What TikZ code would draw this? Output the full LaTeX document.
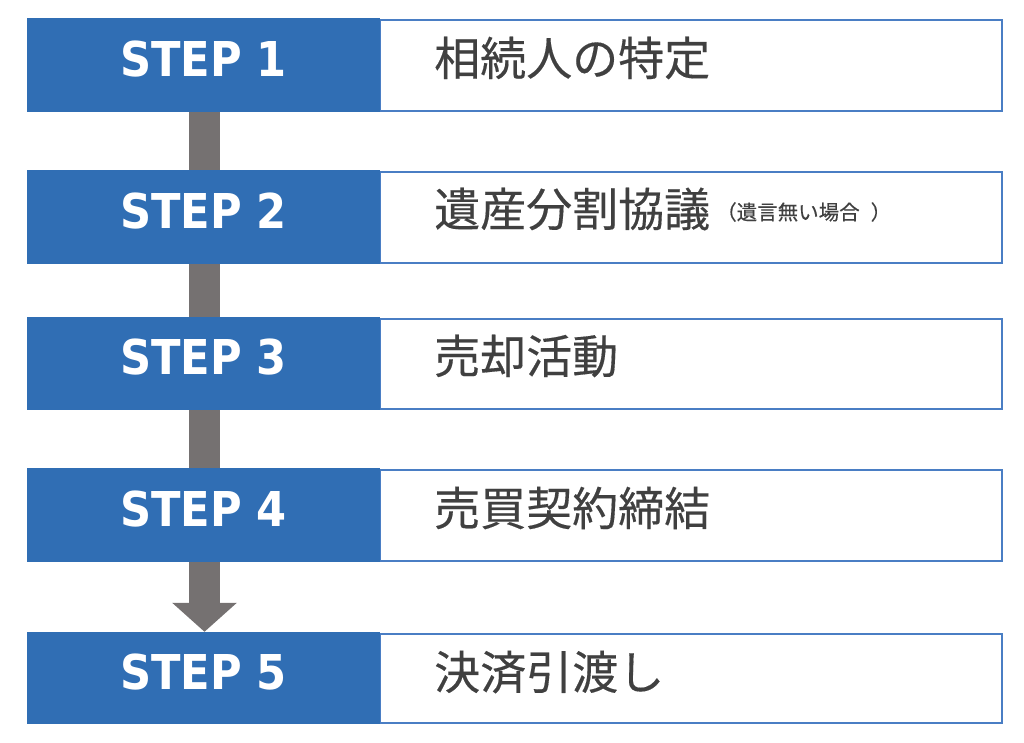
\documentclass[tikz,border=0pt]{standalone}
\usepackage{fontspec}
\usetikzlibrary{arrows.meta}
\newfontfamily\stepfont{DejaVu Sans}
\newfontfamily\jpfont{Noto Sans CJK JP}[FakeBold=0.3]
\definecolor{stepblue}{HTML}{306EB4}
\definecolor{edgeblue}{HTML}{4A7EC4}
\definecolor{arrowgray}{HTML}{757171}
\definecolor{txtgray}{HTML}{404040}
\pgfdeclarelayer{bg}
\pgfsetlayers{bg,main}
\tikzset{
  bluebox/.style={rectangle, fill=stepblue, draw=none, inner sep=0pt, minimum width=353pt},
  whitebox/.style={rectangle, fill=white, draw=edgeblue, line width=1.3pt, inner sep=0pt, minimum width=622pt},
  steplbl/.style={inner sep=0pt, text=white, font=\stepfont\bfseries\fontsize{48}{48}\selectfont},
  jplbl/.style={inner sep=0pt, anchor=west, text=txtgray, font=\jpfont\fontsize{46}{46}\selectfont},
  smalllbl/.style={inner sep=0pt, anchor=west, text=txtgray, font=\jpfont\fontsize{20.5}{20.5}\selectfont},
  flowarrow/.style={draw=arrowgray, line width=31pt, -{Triangle[width=63pt,length=29pt]}}
}
\begin{document}
\begin{tikzpicture}[x=1pt,y=-1pt]
\useasboundingbox (0,0) rectangle (1024,743);
% white boxes
\node[whitebox, minimum height=91pt] (w1) at (691,65.5) {};
\node[whitebox, minimum height=91pt] (w2) at (691,217.5) {};
\node[whitebox, minimum height=90pt] (w3) at (691,364) {};
\node[whitebox, minimum height=91pt] (w4) at (691,515.5) {};
\node[whitebox, minimum height=89pt] (w5) at (691,678.5) {};
% blue boxes
\node[bluebox, minimum height=94pt] (s1) at (203.5,65) {};
\node[bluebox, minimum height=94pt] (s2) at (203.5,217) {};
\node[bluebox, minimum height=93pt] (s3) at (203.5,363.5) {};
\node[bluebox, minimum height=94pt] (s4) at (203.5,515) {};
\node[bluebox, minimum height=92pt] (s5) at (203.5,678) {};
% step labels
\node[steplbl] (t1) at ([yshift=6pt]s1.center) {\scalebox{0.9}[1]{STEP 1}};
\node[steplbl] (t2) at ([yshift=6pt]s2.center) {\scalebox{0.9}[1]{STEP 2}};
\node[steplbl] (t3) at ([yshift=6pt]s3.center) {\scalebox{0.9}[1]{STEP 3}};
\node[steplbl] (t4) at ([yshift=6pt]s4.center) {\scalebox{0.9}[1]{STEP 4}};
\node[steplbl] (t5) at ([yshift=6pt]s5.center) {\scalebox{0.9}[1]{STEP 5}};
% japanese labels
\node[jplbl] (j1) at (434,58) {相続人の特定};
\node[jplbl] (j2) at (434,209) {遺産分割協議};
\node[smalllbl] (j2b) at (716,212) {（遺言無い場合\kern11pt）};
\node[jplbl] (j3) at (434,356) {売却活動};
\node[jplbl] (j4) at (434,508) {売買契約締結};
\node[jplbl] (j5) at (434,672) {決済引渡し};
% arrow
\begin{pgfonlayer}{bg}
\draw[flowarrow] ([xshift=1pt]s1.south) -- ([xshift=1pt]s5.north);
\end{pgfonlayer}
\end{tikzpicture}
\end{document}
